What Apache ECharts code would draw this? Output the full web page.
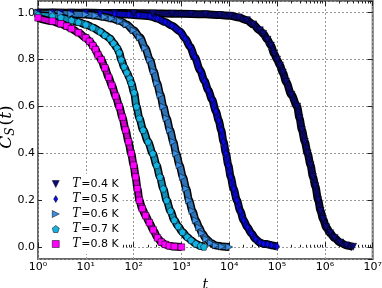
<!DOCTYPE html>
<html>
<head>
<meta charset="utf-8">
<script src="https://cdn.jsdelivr.net/npm/echarts@6.0.0/dist/echarts.min.js"></script>
<style>
html, body { margin: 0; padding: 0; background: #fff; }
#chart { width: 382px; height: 288px; }
</style>
</head>
<body>
<div id="chart"></div>
<script>
//  Data: pairs of [t, C_S(t)]

var names = ['T=0.4 K', 'T=0.5 K', 'T=0.6 K', 'T=0.7 K', 'T=0.8 K'];

var cs04 = [[1,1.0],[2,1.0],[3,1.0],[5,1.0],[10,1.0],[20,0.999],[40,0.999],[100,0.998],[251,0.997],
  [631,0.996],[1585,0.995],[3162,0.993],[6310,0.99],[10471,0.987],[15849,0.98],[23442,0.968],
  [31623,0.95],[43652,0.925],[51286,0.91],[63096,0.885],[74131,0.86],[87096,0.825],[100000,0.80],
  [114815,0.775],[131826,0.745],[154882,0.705],[199526,0.65],[263027,0.60],[295121,0.55],
  [331131,0.50],[380189,0.45],[436516,0.40],[501187,0.35],[562341,0.30],[630957,0.26],
  [724436,0.20],[812831,0.155],[912011,0.12],[1071519,0.085],[1288250,0.06],[1584893,0.04],
  [2089296,0.02],[2818383,0.008],[3890451,0.002]];

var cs05 = [[1,1.0],[2,1.0],[3,0.999],[5,0.999],[10,0.998],[20,0.997],[40,0.995],[79,0.992],
  [126,0.989],[219,0.985],[316,0.975],[457,0.96],[631,0.945],[933,0.92],[1202,0.89],[1514,0.855],
  [1905,0.81],[2455,0.755],[3020,0.71],[3631,0.67],[4365,0.63],[5248,0.58],[6026,0.54],
  [6761,0.50],[7586,0.45],[8511,0.40],[9550,0.35],[10715,0.30],[12303,0.25],[14454,0.20],
  [16982,0.155],[19953,0.115],[23988,0.085],[28840,0.06],[35481,0.035],[43652,0.02],
  [52481,0.014],[63096,0.013],[75858,0.009],[100000,0.003]];

var cs06 = [[1,0.998],[2,0.998],[3,0.997],[5,0.995],[10,0.992],[16,0.988],[25,0.982],[35,0.975],
  [52,0.965],[71,0.95],[100,0.925],[135,0.895],[174,0.85],[219,0.80],[263,0.75],[309,0.70],
  [363,0.65],[417,0.60],[490,0.55],[575,0.50],[676,0.45],[776,0.40],[912,0.35],[1072,0.30],
  [1259,0.25],[1445,0.20],[1698,0.155],[1995,0.115],[2344,0.085],[2692,0.06],[3311,0.035],
  [4169,0.018],[5248,0.008],[7079,0.003],[10000,0.001]];

var cs07 = [[1,0.99],[2,0.986],[3,0.98],[5,0.968],[7,0.96],[10,0.95],[14,0.937],[20,0.92],
  [25,0.905],[32,0.89],[38,0.87],[45,0.85],[50,0.83],[55,0.80],[63,0.77],[72,0.745],[83,0.72],
  [89,0.70],[102,0.66],[115,0.60],[132,0.55],[158,0.50],[200,0.45],[251,0.40],[302,0.35],
  [355,0.30],[417,0.25],[490,0.20],[589,0.155],[708,0.116],[851,0.09],[1047,0.065],
  [1318,0.044],[1585,0.03],[1995,0.015],[2512,0.006],[2951,0.002]];

var cs08 = [[1,0.978],[2,0.964],[3,0.953],[4,0.943],[5,0.932],[7,0.915],[10,0.893],[12,0.878],
  [14,0.86],[16,0.843],[18,0.82],[21,0.80],[25,0.765],[30,0.725],[35,0.69],[42,0.645],[50,0.60],
  [58,0.555],[68,0.50],[78,0.45],[89,0.40],[100,0.35],[110,0.30],[120,0.25],[132,0.20],
  [151,0.165],[178,0.135],[214,0.105],[257,0.074],[316,0.04],[380,0.022],[457,0.012],
  [562,0.006],[708,0.003],[1000,0.001]];

var allData = [cs04, cs05, cs06, cs07, cs08];

var supDigits = ['\u2070','\u00b9','\u00b2','\u00b3','\u2074','\u2075','\u2076','\u2077'];

// minor ticks of the log axis, 2..9 in every decade
var minorTicks = [];
for (var e = 0; e < 7; e++) {
  for (var m = 2; m <= 9; m++) minorTicks.push(m * Math.pow(10, e));
}

//  Styles

var colors = ['#0a0a78', '#0a0ae6', '#3a8ee4', '#14b2e2', '#ff00ff'];
var symbols = [
  'path://M0,0L10,0L5,10Z',
  'path://M3,0L6,5L3,10L0,5Z',
  'path://M0,0L10,5L0,10Z',
  'path://M5,0L10,3.8L8.1,10L1.9,10L0,3.8Z',
  'rect'
];
var symbolSizes = [7, [5, 8], 7, 7, 6.5];
var mathFont = 'DejaVu Serif';
var textFont = 'DejaVu Sans';

var gridLine = { show: true, lineStyle: { color: '#999', width: 1, type: [2, 2] } };
var tickStyle = { color: '#222', width: 1 };

var series = [];
allData.forEach(function(d, i) {
  series.push({
    name: names[i] + ' edge', type: 'line', data: d, smooth: 0.3, smoothMonotone: 'x',
    symbol: 'none', silent: true, z: 2,
    lineStyle: { color: '#000', width: 8 }
  });
  series.push({
    name: names[i], type: 'line', data: d, smooth: 0.3, smoothMonotone: 'x',
    symbol: symbols[i], symbolSize: symbolSizes[i], showAllSymbol: true, z: 2,
    itemStyle: { color: colors[i], borderColor: '#000', borderWidth: 0.5 },
    lineStyle: { color: colors[i], width: 5, opacity: 0.8 }
  });
});

var myChart = echarts.init(document.getElementById('chart'), null, { renderer: 'canvas' });

var option = {
  animation: false,
  backgroundColor: '#fff',
  grid: {
    left: 38, right: 9.3, top: 1, bottom: 29, containLabel: false, outerBoundsMode: 'none',
    show: true, borderColor: '#666', borderWidth: 2
  },
  legend: {
    data: names.map(function(n, i) { return { name: n, icon: symbols[i] }; }),
    orient: 'vertical', left: 42, top: 174,
    padding: [4, 4, 4, 10], itemWidth: 7, itemHeight: 7, itemGap: 3,
    backgroundColor: '#fff', selectedMode: false,
    itemStyle: { borderColor: '#000', borderWidth: 0.5 },
    formatter: function(n) { return '{i|T}{n|' + n.slice(1) + '}'; },
    textStyle: {
      lineHeight: 10,
      rich: {
        i: { fontFamily: mathFont, fontStyle: 'italic', fontSize: 12, color: '#000', lineHeight: 10, padding: [0, 1, 0, 8] },
        n: { fontFamily: textFont, fontSize: 11, color: '#000', lineHeight: 10 }
      }
    }
  },
  xAxis: [
    {
      type: 'log', logBase: 10, min: 1, max: 1e7, position: 'bottom',
      axisLine: { show: false },
      axisTick: { inside: true, length: 5, lineStyle: tickStyle },
      axisLabel: {
        margin: 3, fontFamily: textFont, fontSize: 11, color: '#000',
        formatter: function(v) { return '10' + supDigits[Math.round(Math.log10(v))]; }
      },
      splitLine: gridLine,
      name: 't', nameLocation: 'middle', nameGap: 19, nameMoveOverlap: false,
      nameTextStyle: { fontFamily: mathFont, fontStyle: 'italic', fontSize: 14, color: '#000' }
    },
    {
      type: 'log', logBase: 10, min: 1, max: 1e7, position: 'bottom',
      axisLine: { show: false },
      axisTick: { inside: true, length: 2.5, lineStyle: tickStyle, customValues: minorTicks },
      axisLabel: { show: false }, splitLine: { show: false }
    },
    {
      type: 'log', logBase: 10, min: 1, max: 1e7, position: 'top',
      axisLine: { show: false },
      axisTick: { inside: true, length: 5, lineStyle: tickStyle },
      axisLabel: { show: false }, splitLine: { show: false }
    },
    {
      type: 'log', logBase: 10, min: 1, max: 1e7, position: 'top',
      axisLine: { show: false },
      axisTick: { inside: true, length: 2.5, lineStyle: tickStyle, customValues: minorTicks },
      axisLabel: { show: false }, splitLine: { show: false }
    }
  ],
  yAxis: [
    {
      type: 'value', min: -0.05, max: 1.05, splitNumber: 5, position: 'left',
      axisLine: { show: false },
      axisTick: { inside: true, length: 5, lineStyle: tickStyle },
      axisLabel: {
        margin: 3, fontFamily: textFont, fontSize: 11, color: '#000',
        showMinLabel: false, showMaxLabel: false,
        formatter: function(v) { return v.toFixed(1); }
      },
      splitLine: gridLine,
      name: '{c|C}{s|S}{p|(}{c|t}{p|)}', nameLocation: 'middle', nameGap: 21, nameRotate: 90,
      nameMoveOverlap: false,
      nameTextStyle: {
        padding: [0, 0, 0, 6],
        rich: {
          c: { fontFamily: mathFont, fontStyle: 'italic', fontSize: 17, color: '#000' },
          s: { fontFamily: mathFont, fontStyle: 'italic', fontSize: 12, color: '#000', padding: [8, 2, 0, 0] },
          p: { fontFamily: mathFont, fontSize: 17, color: '#000' }
        }
      }
    },
    {
      type: 'value', min: -0.05, max: 1.05, splitNumber: 5, position: 'right',
      axisLine: { show: false },
      axisTick: { inside: true, length: 5, lineStyle: tickStyle },
      axisLabel: { show: false }, splitLine: { show: false }
    }
  ],
  series: series
};

myChart.setOption(option);
</script>
</body>
</html>
